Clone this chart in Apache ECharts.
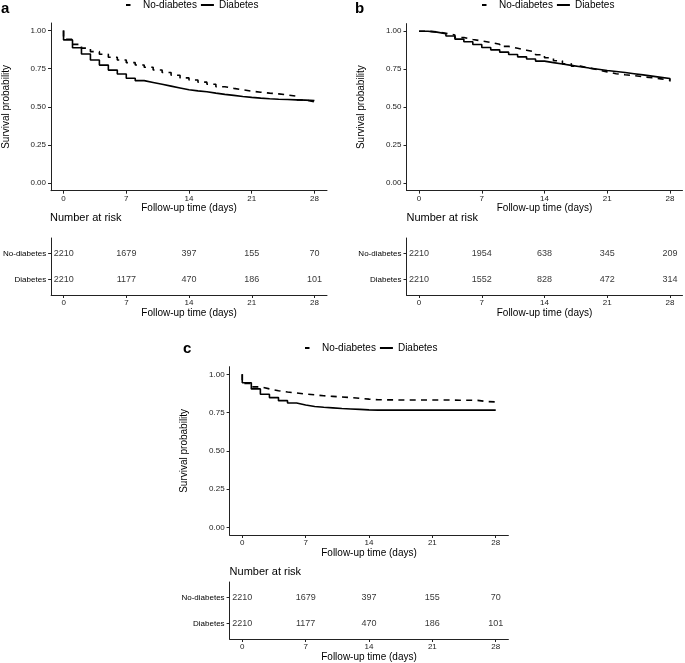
<!DOCTYPE html>
<html>
<head>
<meta charset="utf-8">
<script src="https://cdn.jsdelivr.net/npm/echarts@6/dist/echarts.min.js"></script>
<style>
html,body{margin:0;padding:0;background:#fff;}
#chart{width:685px;height:663px;}
</style>
</head>
<body>
<div id="chart"></div>
<script>
// ---------- data ----------
const groupNames = ['No-diabetes', 'Diabetes'];
const days = [0,1,2,3,4,5,6,7,8,9,10,11,12,13,14,15,16,17,18,19,20,21,22,23,24,25,26,27,28];
const startSurvival = 1.0;
// survival value holding from each day onward (Kaplan-Meier steps)
const survA_noDiab = [0.943,0.910,0.885,0.862,0.845,0.825,0.807,0.790,0.775,0.760,0.742,0.725,0.707,0.690,0.676,0.662,0.648,0.632,0.621,0.612,0.603,0.596,0.590,0.585,0.578,0.570,0.545,0.532,0.522];
const survA_diab   = [0.939,0.888,0.847,0.807,0.774,0.741,0.715,0.688,0.672,0.660,0.648,0.636,0.624,0.612,0.605,0.599,0.590,0.582,0.575,0.568,0.562,0.557,0.553,0.550,0.548,0.546,0.544,0.542,0.540];
const survB_noDiab = [1.000,0.995,0.986,0.975,0.958,0.945,0.936,0.926,0.914,0.900,0.888,0.875,0.862,0.845,0.825,0.805,0.785,0.770,0.758,0.745,0.732,0.720,0.713,0.707,0.700,0.693,0.686,0.678,0.668];
const survB_diab   = [1.000,0.994,0.983,0.968,0.948,0.930,0.912,0.893,0.877,0.862,0.846,0.831,0.817,0.803,0.793,0.784,0.775,0.766,0.757,0.749,0.741,0.735,0.728,0.720,0.712,0.704,0.696,0.688,0.678];
const survC_noDiab = [0.940,0.918,0.905,0.893,0.885,0.878,0.871,0.866,0.860,0.856,0.852,0.848,0.843,0.838,0.834,0.833,0.833,0.832,0.832,0.832,0.832,0.832,0.832,0.831,0.831,0.830,0.822,0.820,0.807];
const survC_diab   = [0.945,0.905,0.870,0.848,0.828,0.813,0.800,0.790,0.785,0.781,0.777,0.774,0.771,0.768,0.766,0.766,0.766,0.766,0.766,0.766,0.766,0.766,0.766,0.766,0.766,0.766,0.766,0.766,0.765];

const riskTimes = [0,7,14,21,28];
const riskA_noDiab = [2210,1679,397,155,70];
const riskA_diab   = [2210,1177,470,186,101];
const riskB_noDiab = [2210,1954,638,345,209];
const riskB_diab   = [2210,1552,828,472,314];
const riskC_noDiab = [2210,1679,397,155,70];
const riskC_diab   = [2210,1177,470,186,101];

const xTicks = [0,7,14,21,28];
const yTicks = [0,0.25,0.5,0.75,1];
const riskRows = [1,2]; // 1 = Diabetes, 2 = No-diabetes
const riskRowNames = ['Diabetes','No-diabetes'];

const panelData = [
  {label:'a', noDiab:survA_noDiab, diab:survA_diab, riskNo:riskA_noDiab, riskDi:riskA_diab},
  {label:'b', noDiab:survB_noDiab, diab:survB_diab, riskNo:riskB_noDiab, riskDi:riskB_diab},
  {label:'c', noDiab:survC_noDiab, diab:survC_diab, riskNo:riskC_noDiab, riskDi:riskC_diab}
];

// ---------- layout ----------
const FONT = '"Liberation Sans", Arial, Helvetica, sans-serif';
const layout = [
  {labelX:1, labelY:1, legendX:123, legendY:0,
   plot:{left:50, top:23, width:277, height:167.7},
   table:{left:50, top:238, width:277, height:57}, nrY:212},
  {labelX:355, labelY:1, legendX:479, legendY:0,
   plot:{left:406.5, top:23.6, width:276, height:167},
   table:{left:406.5, top:238, width:276, height:57}, nrY:212},
  {labelX:183, labelY:341, legendX:302, legendY:343,
   plot:{left:229.6, top:366.7, width:278.8, height:168.3},
   table:{left:229.6, top:582, width:278.8, height:57}, nrY:566}
];

const AX = '#222';
const DASH = [6, 5.3];
const ICON_DASH = 'path://M0,0L0,0M3,0L7.5,0L7.5,2L3,2ZM15,2L15,2';
const ICON_SOLID = 'path://M0,0L0,0M2,0L15,0L15,2L2,2Z';

function kmPoints(vals){
  const pts = [[days[0], startSurvival]];
  days.forEach((d,i)=>pts.push([d, vals[i]]));
  return pts;
}

const grids = [], xAxes = [], yAxes = [], series = [], titles = [], legends = [];

function xAxisCfg(gi){
  return {
    type:'value', gridIndex:gi, min:-1.4, max:29.4,
    name:'Follow-up time (days)', nameLocation:'middle', nameGap:13,
    nameTextStyle:{fontSize:10, color:'#000', fontFamily:FONT},
    axisLine:{show:true, onZero:false, lineStyle:{color:AX, width:1}},
    axisTick:{show:true, length:3, customValues:xTicks, lineStyle:{color:AX}},
    axisLabel:{show:true, customValues:xTicks, margin:4, fontSize:8, color:'#222', fontFamily:FONT},
    splitLine:{show:false}
  };
}

layout.forEach((L, p) => {
  const D = panelData[p];
  const gPlot = grids.length;
  grids.push(Object.assign({containLabel:false}, L.plot));
  const gTab = grids.length;
  grids.push(Object.assign({containLabel:false}, L.table));

  xAxes.push(xAxisCfg(gPlot));
  xAxes.push(xAxisCfg(gTab));

  yAxes.push({
    type:'value', gridIndex:gPlot, min:-0.05, max:1.05,
    name:'Survival probability', nameLocation:'middle', nameGap:40, nameRotate:90,
    nameTextStyle:{fontSize:10, color:'#000', fontFamily:FONT},
    axisLine:{show:true, onZero:false, lineStyle:{color:AX, width:1}},
    axisTick:{show:true, length:3, customValues:yTicks, lineStyle:{color:AX}},
    axisLabel:{show:true, customValues:yTicks, margin:5, fontSize:8, color:'#222', fontFamily:FONT,
               formatter:v=>Number(v).toFixed(2)},
    splitLine:{show:false}
  });
  yAxes.push({
    type:'value', gridIndex:gTab, min:0.4, max:2.6,
    axisLine:{show:true, onZero:false, lineStyle:{color:AX, width:1}},
    axisTick:{show:true, length:3, customValues:riskRows, lineStyle:{color:AX}},
    axisLabel:{show:true, customValues:riskRows, margin:5, fontSize:8, color:'#000', fontFamily:FONT,
               formatter:v=>riskRowNames[Math.round(v)-1] || ''},
    splitLine:{show:false}
  });

  const xi = p*2, yi = p*2;
  series.push({
    name:groupNames[0], type:'line', step:'end', xAxisIndex:xi, yAxisIndex:yi,
    symbol:'none', data:kmPoints(D.noDiab), silent:true, color:'#000',
    itemStyle:{color:'#000'},
    lineStyle:{color:'#000', width:1.6, type:DASH}
  });
  series.push({
    name:groupNames[1], type:'line', step:'end', xAxisIndex:xi, yAxisIndex:yi,
    symbol:'none', data:kmPoints(D.diab), silent:true, color:'#000',
    itemStyle:{color:'#000'},
    lineStyle:{color:'#000', width:1.6, type:'solid'}
  });
  const riskLabel = {show:true, position:'inside', fontSize:9, color:'#000', fontFamily:FONT,
                     formatter:pp=>String(pp.value[2])};
  series.push({
    name:'risk-no-'+p, type:'scatter', xAxisIndex:xi+1, yAxisIndex:yi+1, symbolSize:1, silent:true,
    itemStyle:{color:'transparent'}, label:riskLabel,
    data:riskTimes.map((t,i)=>[t, 2, D.riskNo[i]])
  });
  series.push({
    name:'risk-di-'+p, type:'scatter', xAxisIndex:xi+1, yAxisIndex:yi+1, symbolSize:1, silent:true,
    itemStyle:{color:'transparent'}, label:riskLabel,
    data:riskTimes.map((t,i)=>[t, 1, D.riskDi[i]])
  });

  titles.push({text:D.label, left:L.labelX, top:L.labelY, padding:0,
               textStyle:{fontSize:15, fontWeight:'bold', color:'#000', fontFamily:FONT}});
  titles.push({text:'Number at risk', left:L.table.left, top:L.nrY, padding:0,
               textStyle:{fontSize:11, fontWeight:'normal', color:'#000', fontFamily:FONT}});

  legends.push({
    left:L.legendX, top:L.legendY, padding:0, orient:'horizontal',
    itemWidth:15, itemHeight:2, itemGap:2, selectedMode:false,
    textStyle:{fontSize:10, color:'#000', fontFamily:FONT},
    data:[
      {name:groupNames[0], icon:ICON_DASH, itemStyle:{color:'#000', borderWidth:0}},
      {name:groupNames[1], icon:ICON_SOLID, itemStyle:{color:'#000', borderWidth:0}}
    ]
  });
});

const chart = echarts.init(document.getElementById('chart'), null, {renderer:'canvas'});
chart.setOption({
  backgroundColor:'#fff',
  animation:false,
  title:titles,
  legend:legends,
  grid:grids,
  xAxis:xAxes,
  yAxis:yAxes,
  series:series
});
</script>
</body>
</html>
